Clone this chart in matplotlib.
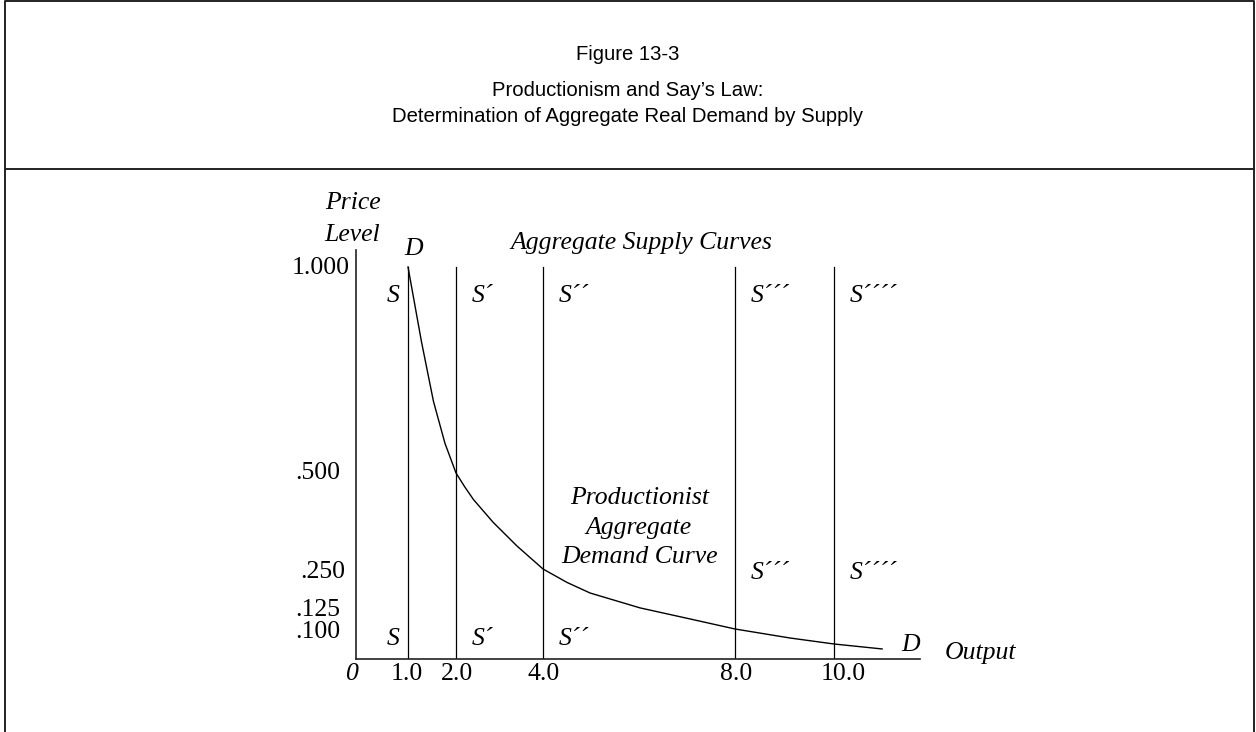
import numpy as np
import matplotlib
matplotlib.use('Agg')
import matplotlib.pyplot as plt
from matplotlib.lines import Line2D
from matplotlib.transforms import ScaledTranslation, blended_transform_factory

# chart data
supply_outputs = [1.0, 2.0, 4.0, 8.0, 10.0]
supply_tops = ['S', 'S´', 'S´´', 'S´´´', 'S´´´´']
supply_bottoms = ['S', 'S´', 'S´´', None, None]
supply_mids = [None, None, None, 'S´´´', 'S´´´´']

demand_output = [1.0, 1.28, 1.53, 1.77, 2.0, 2.2, 2.4, 2.85, 3.4, 4.0, 4.5, 4.98, 6.02, 7.06, 8.0, 9.11, 10.0, 11.0]
demand_price = [1.0, .819, .674, .572, .5, .464, .431, .372, .31, .25, .222, .2, .169, .146, .125, .11, .1, .067]

price_ticks = [1.0, .5, .25, .125, .1]
price_labels = ['1.000', '.500', '.250', '.125', '.100']
output_ticks = [1.0, 2.0, 4.0, 8.0, 10.0]
output_labels = ['1.0', '2.0', '4.0', '8.0', '10.0']

# the axes of the original are drawn by hand, so both scales are piecewise linear
x_knots = [0, 1, 2, 4, 8, 10, 12]
x_pos = [0, 52, 100, 187, 379, 478, 574]
y_knots = [0, .1, .125, .25, .5, 1.0, 1.2]
y_pos = [0, 15, 30, 90, 186, 392, 475]

W, H = 1256, 732
SERIF = 'Liberation Serif'
SANS = 'Liberation Sans'
FS = 18.5


def px(x, y):
    return x / W, 1 - y / H


def offset(dx, dy):
    return ScaledTranslation(dx / 100, -dy / 100, fig.dpi_scale_trans)


fig = plt.figure(figsize=(W / 100, H / 100), dpi=100)

# frame and header
for xs, ys in [([5, 5, 1254, 1254], [H, 1, 1, H]), ([5, 1254], [168.5, 168.5])]:
    fig.add_artist(Line2D([x / W for x in xs], [1 - y / H for y in ys],
                          transform=fig.transFigure, color='#222222', lw=1.4))

fig.text(*px(628, 54), 'Figure 13-3', family=SANS, fontsize=14.6, ha='center', va='center')
fig.text(*px(628, 91), 'Productionism and Say’s Law:', family=SANS, fontsize=14.6, ha='center', va='center')
fig.text(*px(628, 116), 'Determination of Aggregate Real Demand by Supply', family=SANS, fontsize=14.6,
         ha='center', va='center')

left, right, top, bottom = 356, 920, 250, 659
ax = fig.add_axes([left / W, 1 - bottom / H, (right - left) / W, (bottom - top) / H])
ax.set_xscale('function', functions=(lambda v: np.interp(v, x_knots, x_pos),
                                     lambda v: np.interp(v, x_pos, x_knots)))
ax.set_yscale('function', functions=(lambda v: np.interp(v, y_knots, y_pos),
                                     lambda v: np.interp(v, y_pos, y_knots)))
ax.set_xlim(0, 11.79)
ax.set_ylim(0, 1.041)
ax.set_xticks([])
ax.set_yticks([])
ax.spines[['top', 'right']].set_visible(False)
for s in ['left', 'bottom']:
    ax.spines[s].set_linewidth(1.2)
    ax.spines[s].set_color('#222222')
ax.patch.set_alpha(0)

for xv in supply_outputs:
    ax.plot([xv, xv], [0, 1.0], color='black', lw=0.9)
ax.plot(demand_output, demand_price, color='black', lw=1.0)

# y tick labels (nudged as in the original)
ytrans = blended_transform_factory(ax.transAxes, ax.transData)
y_dx = [-6, -16, -11, -16, -16]
y_dy = [1, 0, 3, -19, -12]
for val, lab, dx, dy in zip(price_ticks, price_labels, y_dx, y_dy):
    ax.text(0, val, lab, family=SERIF, fontsize=FS, ha='right', va='center',
            transform=ytrans + offset(dx, dy))

xtrans = blended_transform_factory(ax.transData, ax.transAxes)
x_dx = [-1, 1, 1, 1, 9]
for val, lab, dx in zip(output_ticks, output_labels, x_dx):
    ax.text(val, 0, lab, family=SERIF, fontsize=FS, ha='center', va='center',
            transform=xtrans + offset(dx, 15))
ax.text(0, 0, '0', family=SERIF, style='italic', fontsize=FS, ha='center', va='center',
        transform=xtrans + offset(-4, 15))

# supply curve labels
for i, xv in enumerate(supply_outputs):
    ha = 'right' if i == 0 else 'left'
    dx = -8 if i == 0 else 16
    for lab, yy in [(supply_tops[i], 296), (supply_mids[i], 573), (supply_bottoms[i], 639)]:
        if lab:
            ax.text(xv, 0, lab, family=SERIF, style='italic', fontsize=FS, ha=ha, va='center',
                    transform=xtrans + offset(dx, yy - bottom))

it = dict(family=SERIF, style='italic', fontsize=FS, va='center')
fig.text(*px(353, 203), 'Price', ha='center', **it)
fig.text(*px(352, 235), 'Level', ha='center', **it)
fig.text(*px(414, 249), 'D', ha='center', **it)
fig.text(*px(510, 243), 'Aggregate Supply Curves', ha='left', **it)
fig.text(*px(640, 498), 'Productionist', ha='center', **it)
fig.text(*px(638, 528), 'Aggregate', ha='center', **it)
fig.text(*px(640, 557), 'Demand Curve', ha='center', **it)
fig.text(*px(911, 645), 'D', ha='center', **it)
fig.text(*px(945, 653), 'Output', ha='left', **it)

fig.savefig('out.png', dpi=100)
